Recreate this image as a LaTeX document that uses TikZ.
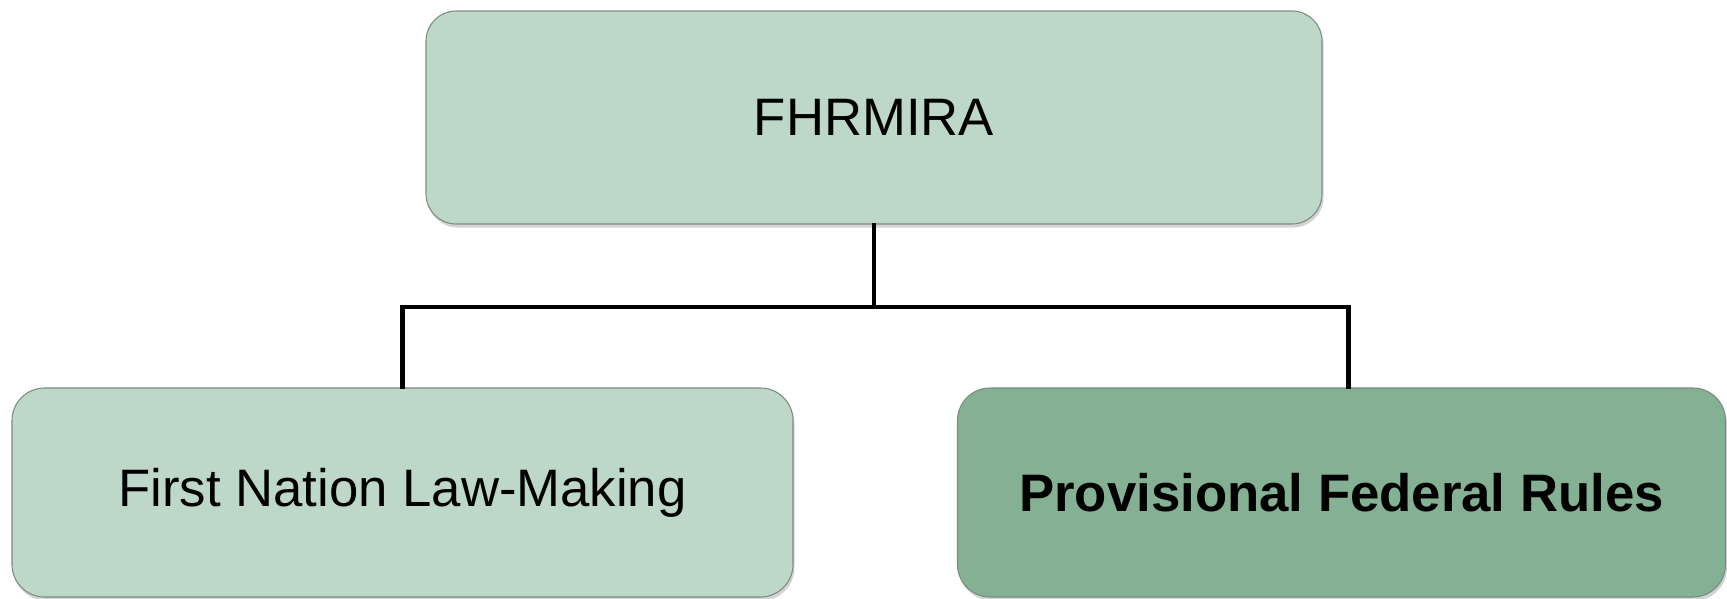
\documentclass[tikz,border=0pt]{standalone}
\usepackage{fontspec}
\setmainfont{Liberation Sans}
\usetikzlibrary{positioning,shadows}

\definecolor{paleGreen}{HTML}{BDD8C8}
\definecolor{deepGreen}{HTML}{84B093}

\begin{document}
\begin{tikzpicture}[
  box/.style={draw=black!35!paleGreen, line width=0.6pt, rounded corners=0.65cm, align=center, inner sep=0pt,
    minimum height=4.18cm, font=\fontsize{30}{36}\selectfont,
    drop shadow={opacity=0.35, shadow xshift=0.03cm, shadow yshift=-0.07cm}},
  conn/.style={line width=2.3pt, line cap=rect}
]
\useasboundingbox (0,0) rectangle (34.54,-11.98);

\node[box, fill=paleGreen, minimum width=17.92cm, minimum height=4.26cm, rounded corners=0.6cm] (act) at (17.48,-2.35) {FHRMIRA};
\node[box, fill=paleGreen, minimum width=15.62cm] (lawmaking) at (8.05,-9.85) {First Nation Law-Making};
\node[box, fill=deepGreen, minimum width=15.36cm, font=\fontsize{30}{36}\selectfont\bfseries] (rules) at (26.83,-9.85) {Provisional Federal Rules};

\coordinate (bus) at (17.48,-6.14);
\draw[conn] (act.south) -- (act.south |- bus) -| (lawmaking.north);
\draw[conn] (act.south |- bus) -| ([xshift=0.14cm]rules.north);

\end{tikzpicture}
\end{document}
